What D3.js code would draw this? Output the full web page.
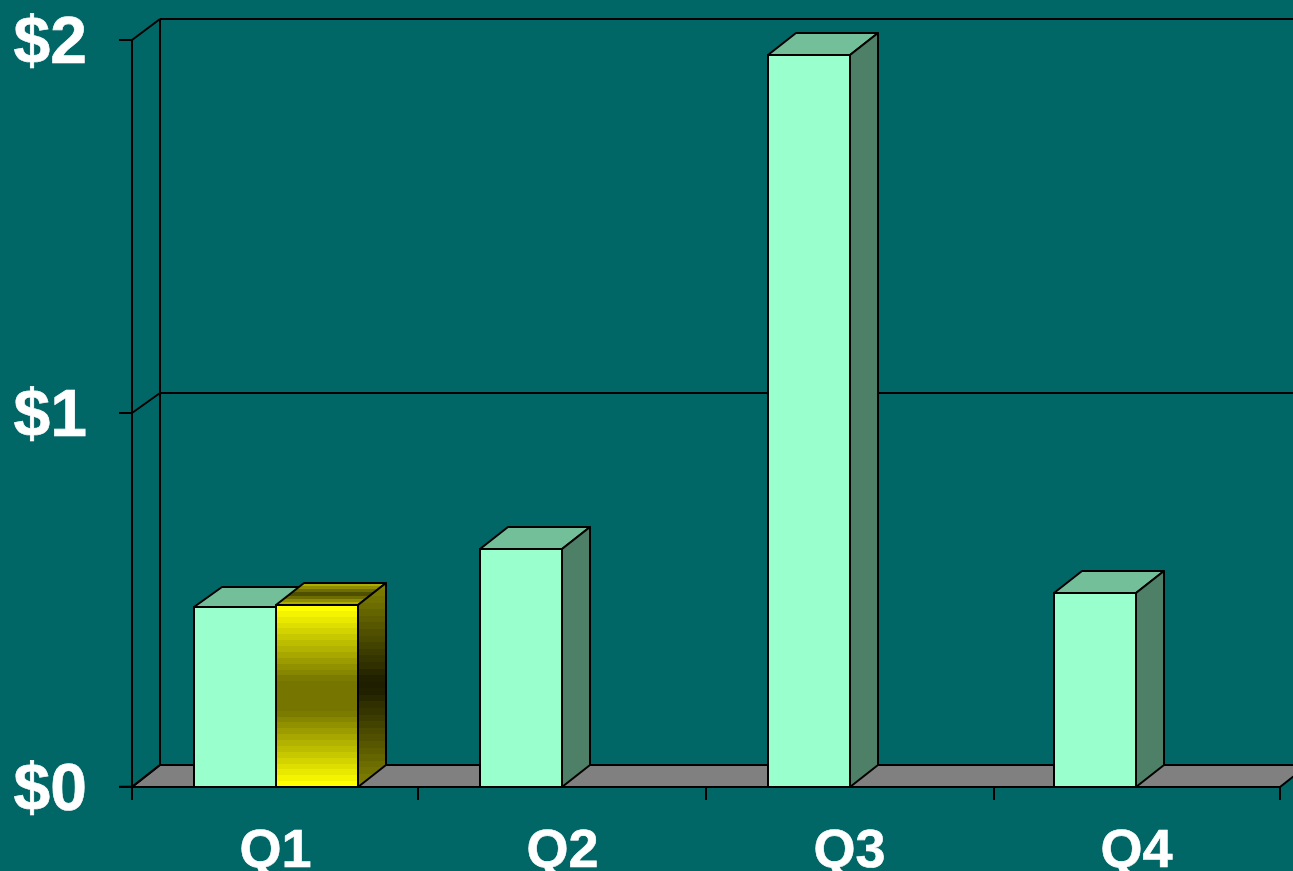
<!DOCTYPE html>
<html>
<head>
<meta charset="utf-8">
<script src="https://cdn.jsdelivr.net/npm/d3@7"></script>
<style>
  html, body { margin: 0; padding: 0; background: #006666; overflow: hidden; }
  text { font-family: "Liberation Sans", Arial, sans-serif; font-weight: bold; fill: white; stroke: white; stroke-width: 0.6px; }
</style>
</head>
<body>
<script>
var quarters = ["Q1", "Q2", "Q3", "Q4"];
var seriesA = [0.482, 0.637, 1.96, 0.519];
var seriesB = [0.487, null, null, null];
var yTicks = [0, 1, 2];
var edgeIndex = [0, 1, 2, 3, 4];

var width = 1293;
var height = 871;
var left = 132;
var right = 1280;
var bottom = 787;
var depthX = 28;
var depthY = 22;
var tickLength = 13;
var lineColor = "black";

var svg = d3.select("body")
    .append("svg")
    .attr("width", width)
    .attr("height", height)
    .style("display", "block")

svg.append("rect")
    .attr("width", width)
    .attr("height", height)
    .attr("fill", "#006666")

var x = d3.scaleBand().domain(quarters).range([left, right]);
var xEdge = d3.scaleLinear().domain(edgeIndex).range([left, 418, 706, 994, right]);
var y = d3.scaleLinear().domain([0, 2]).rangeRound([786.8, 40]);
var yBack = d3.scaleLinear().domain(yTicks).range([765, 393, 19]);
var barWidth = 82;

// the original sits on a 2px grid
var snap = function(v) {
  return Math.round(v / 2) * 2;
}

// banded gradients, the original has visible steps in them
var defs = svg.append("defs");
var steppedGradient = function(id, outer, inner, steps, plateau) {
  var g = defs.append("linearGradient")
      .attr("id", id)
      .attr("x1", 0).attr("y1", 0)
      .attr("x2", 0).attr("y2", 1);
  var mix = d3.interpolateRgb(outer, inner);
  d3.range(steps).forEach(function(i) {
    var mid = (steps - 1) / 2;
    var t = Math.min(1, (1 - Math.abs(i - mid) / mid) * plateau);
    var color = mix(t);
    g.append("stop").attr("offset", i / steps).attr("stop-color", color);
    g.append("stop").attr("offset", (i + 1) / steps).attr("stop-color", color);
  });
}
steppedGradient("goldFront", "#ffff00", "#757500", 31, 1.2);
steppedGradient("goldSide", "#808000", "#1f1f00", 31, 1.05);
steppedGradient("goldTop", "#adad00", "#4f4f00", 7, 1);

var points = function(list) {
  return list.map(function(p) { return p.join(","); }).join(" ");
}

// back wall gridlines
svg.selectAll(".grid")
    .data(yTicks)
    .enter()
    .append("line")
    .attr("class", "grid")
    .attr("x1", left + depthX)
    .attr("x2", width + 40)
    .attr("y1", function(d) { return yBack(d); })
    .attr("y2", function(d) { return yBack(d); })
    .attr("stroke", lineColor)
    .attr("stroke-width", 2)

// floor
svg.append("polygon")
    .attr("points", points([
      [left, bottom],
      [left + depthX, yBack(0)],
      [right + depthX, yBack(0)],
      [right, bottom]
    ]))
    .attr("fill", "#808080")
    .attr("stroke", lineColor)
    .attr("stroke-width", 2)

// side wall
svg.append("line")
    .attr("x1", left + depthX).attr("x2", left + depthX)
    .attr("y1", yBack(2)).attr("y2", yBack(0))
    .attr("stroke", lineColor)
    .attr("stroke-width", 2)

svg.selectAll(".wallDiag")
    .data(yTicks)
    .enter()
    .append("line")
    .attr("class", "wallDiag")
    .attr("x1", left)
    .attr("x2", left + depthX)
    .attr("y1", function(d) { return y(d); })
    .attr("y2", function(d) { return yBack(d); })
    .attr("stroke", lineColor)
    .attr("stroke-width", 2)

var drawBars = function(values, slot, faces) {
  var rows = quarters
      .map(function(q, i) { return { q: q, v: values[i] }; })
      .filter(function(d) { return d.v !== null; });

  var bars = svg.selectAll(".bar" + slot)
      .data(rows)
      .enter()
      .append("g")
      .attr("class", "bar" + slot)

  var x0 = function(d) { return snap(x(d.q) + x.bandwidth() / 2 - barWidth) + slot * barWidth; };

  bars.append("polygon")
      .attr("points", function(d) {
        var a = x0(d), b = a + barWidth, t = y(d.v);
        // the first mint bar has a slightly shallower top in the original
        var rise = (slot === 0 && d.q === "Q1") ? depthY - 2 : depthY;
        return points([[a, t], [a + depthX, t - rise], [b + depthX, t - rise], [b, t]]);
      })
      .attr("fill", faces.top)
      .attr("stroke", lineColor)
      .attr("stroke-width", 2)
      .attr("stroke-linejoin", "round")

  bars.append("polygon")
      .attr("points", function(d) {
        var b = x0(d) + barWidth, t = y(d.v);
        return points([[b, t], [b + depthX, t - depthY], [b + depthX, yBack(0)], [b, bottom]]);
      })
      .attr("fill", faces.side)
      .attr("stroke", lineColor)
      .attr("stroke-width", 2)
      .attr("stroke-linejoin", "round")

  bars.append("rect")
      .attr("x", x0)
      .attr("y", function(d) { return y(d.v); })
      .attr("width", barWidth)
      .attr("height", function(d) { return bottom - y(d.v); })
      .attr("fill", faces.front)
      .attr("stroke", lineColor)
      .attr("stroke-width", 2)
}

drawBars(seriesA, 0, { front: "#99ffcc", top: "#73bf99", side: "#4d8066" });
drawBars(seriesB, 1, { front: "url(#goldFront)", top: "url(#goldTop)", side: "url(#goldSide)" });

// axes
var yAxis = svg.append("g")
    .attr("transform", "translate(" + left + ",0)")
    .call(d3.axisLeft(y).offset(0).tickValues(yTicks).tickSize(tickLength).tickPadding(32)
      .tickFormat(function(d) { return "$" + d; }))

yAxis.select(".domain").attr("stroke", lineColor).attr("stroke-width", 2)
yAxis.selectAll("line").attr("stroke", lineColor).attr("stroke-width", 2)
yAxis.selectAll("text")
    .attr("dy", "23px")
    .style("font-size", "66px")

var xAxis = svg.append("g");

xAxis.append("line")
    .attr("x1", left).attr("x2", right)
    .attr("y1", bottom).attr("y2", bottom)
    .attr("stroke", lineColor)
    .attr("stroke-width", 2)

xAxis.selectAll(".xTick")
    .data(edgeIndex)
    .enter()
    .append("line")
    .attr("class", "xTick")
    .attr("x1", function(d) { return xEdge(d); })
    .attr("x2", function(d) { return xEdge(d); })
    .attr("y1", bottom)
    .attr("y2", bottom + tickLength)
    .attr("stroke", lineColor)
    .attr("stroke-width", 2)

xAxis.selectAll(".xLabel")
    .data(quarters)
    .enter()
    .append("text")
    .attr("class", "xLabel")
    .attr("x", function(d) { return x(d) + x.bandwidth() / 2; })
    .attr("y", 867)
    .attr("text-anchor", "middle")
    .style("font-size", "54px")
    .text(function(d) { return d; })
</script>
</body>
</html>
